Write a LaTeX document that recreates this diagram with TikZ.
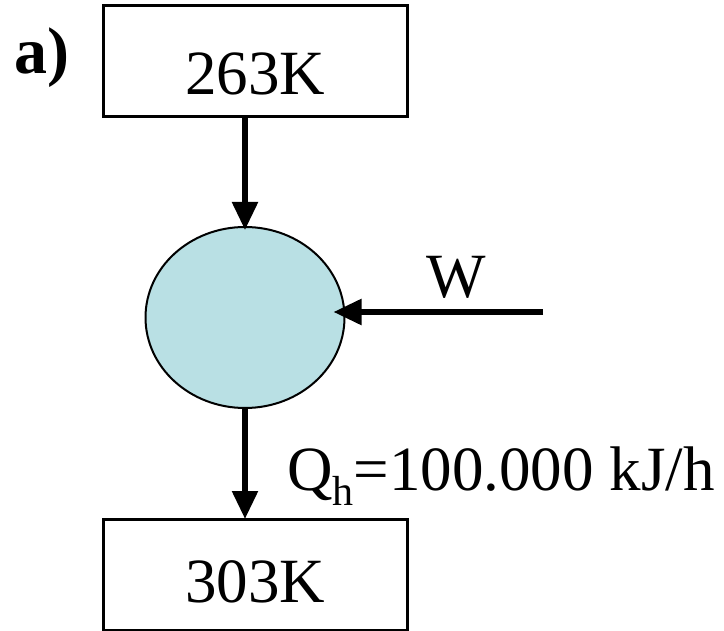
\documentclass[tikz,border=0pt]{standalone}
\usepackage{fontspec}
\setmainfont{Liberation Serif}
\usetikzlibrary{positioning,arrows.meta,shapes.geometric}
\definecolor{pumpblue}{RGB}{185,224,228}
\begin{document}
\begin{tikzpicture}[x=1pt,y=-1pt,
  tempbox/.style={draw,line width=3pt,inner sep=0pt,outer sep=0pt,minimum width=304pt,font=\fontsize{63}{70}\selectfont},
  flow/.style={line width=5.5pt,-{Triangle[length=28pt,width=25pt]}},
  lbl/.style={font=\fontsize{63}{70}\selectfont,inner sep=0pt}]
\useasboundingbox (0,0) rectangle (724,631);
% reservoirs
\node[tempbox,anchor=north west,text height=89pt,text depth=22pt] (cold) at (103,6) {263K};
\node[tempbox,anchor=north west,text height=83pt,text depth=28pt] (hot) at (103,519) {303K};
% heat pump
\node[draw,ellipse,fill=pumpblue,line width=2pt,minimum width=199pt,minimum height=181pt,inner sep=0pt,outer sep=0pt] (pump) at (245,317.5) {};
\coordinate (wstart) at (543,312);
\draw[flow] (cold.south -| pump) -- ([yshift=-3pt]pump.north);
\draw[flow] (wstart) -- ([xshift=-11pt]pump.east |- wstart);
\draw[flow] (pump.south) -- (hot.north -| pump);
% labels
\node[lbl,anchor=base] (wlbl) at (456,298) {W};
\node[lbl,anchor=base west] (qlbl) at (287,490) {Q\raisebox{-15pt}{\fontsize{42}{42}\selectfont h}=100.000 kJ/h};
\node[lbl,anchor=base west,font=\fontsize{66}{72}\selectfont\bfseries] (part) at (14,74) {a)};
\end{tikzpicture}
\end{document}
